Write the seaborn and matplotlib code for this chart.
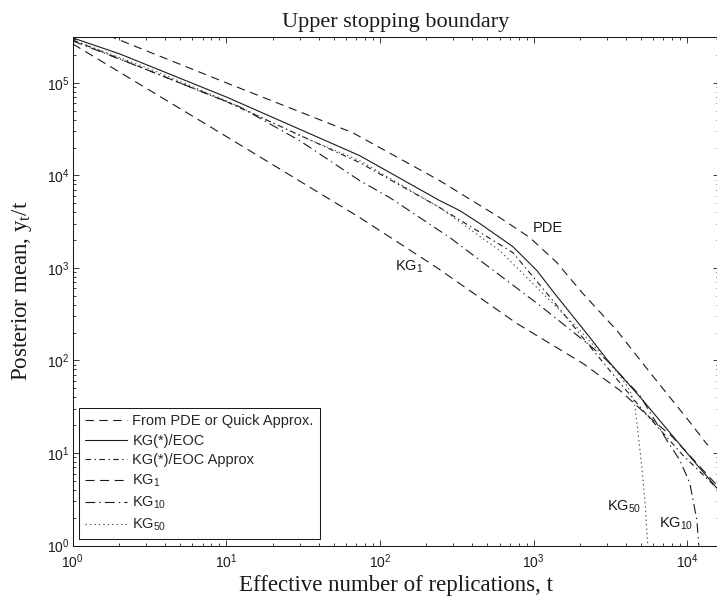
import matplotlib
matplotlib.use("Agg")
import matplotlib.pyplot as plt
import numpy as np
import seaborn as sns
from matplotlib.ticker import LogLocator, FuncFormatter, NullFormatter

# --- values (t = effective replications, y = y_t/t) ---
t_pde = [1.7, 10.0, 66.5, 245, 602, 945, 1416, 2091, 3481, 5708, 9940, 13620]
y_pde = [325000, 100000, 28880, 8767, 3498, 2128, 1143, 529.5, 211.2, 74.4, 23.7, 12.1]

t_eoc = [1, 2.02, 10.06, 73.9, 245, 331, 447, 732, 1050, 1334, 2322, 2997, 5140, 9363, 15590]
y_eoc = [305900, 205500, 70000, 16320, 5333, 4159, 3013, 1700, 937, 560, 177.5, 102.8, 37.1, 11.3, 4.17]

t_eoc_approx = [1, 10.06, 73.9, 245, 732, 1334, 2322, 5140, 9363, 15590]
y_eoc_approx = [290900, 62380, 13710, 4483, 1466, 444.9, 141.9, 28.9, 9.47, 4.17]

t_kg1 = [1, 10.06, 73.9, 234, 777, 2091, 3640, 5970, 8059, 15590]
y_kg1 = [263500, 26150, 3498, 1010, 251.3, 93.0, 47.6, 22.6, 14.8, 4.49]

t_kg10 = [1, 3.17, 12.2, 30.1, 73.9, 115.8, 285, 1098, 2322, 2997, 4914, 7366, 8951, 10400, 11550, 11900]
y_kg10 = [283900, 134700, 55100, 23670, 8767, 5747, 2128, 393.0, 145.6, 100.3, 42.0, 13.7, 8.36, 4.72, 1.88, 1.0]

t_kg50 = [1, 3.17, 10.06, 30.1, 73.9, 245, 602, 1098, 1999, 2698, 3640, 4229, 4559, 4769, 5064, 5297, 5540]
y_kg50 = [290900, 141600, 63960, 26810, 14410, 4483, 1540, 570.5, 211.2, 122.3, 69.1, 47.6, 32.8, 17.6, 7.03, 3.10, 1.0]

series_labels = ["From PDE or Quick Approx.", "KG(*)/EOC", "KG(*)/EOC Approx",
                 r"$\mathregular{KG_{1}}$", r"$\mathregular{KG_{10}}$", r"$\mathregular{KG_{50}}$"]

# in-plot annotations (text, t, y)
note_text = ["PDE", r"$\mathregular{KG_{1}}$", r"$\mathregular{KG_{50}}$", r"$\mathregular{KG_{10}}$"]
note_t = [988, 125, 2998, 6530]
note_y = [2470, 937, 2.41, 1.545]

sns.set_theme(style="ticks")
plt.rcParams["font.family"] = ["Liberation Sans", "DejaVu Sans"]
plt.rcParams["mathtext.fontset"] = "custom"
plt.rcParams["mathtext.rm"] = "Liberation Sans"
plt.rcParams["mathtext.it"] = "Liberation Sans:italic"
plt.rcParams["lines.scale_dashes"] = False

fig = plt.figure(figsize=(7.17, 5.96), dpi=100)
ax = fig.add_axes([0.1014, 0.0847, 0.9008, 0.8537])

styles = [(0, (6, 4)), "-", (0, (4, 2.5, 1, 2.5)), (0, (6.5, 4)), (0, (7, 3, 1, 3)), (0, (1, 2.2))]
colors = ["k", "k", "k", "k", "k", "0.3"]
data = [(t_pde, y_pde), (t_eoc, y_eoc), (t_eoc_approx, y_eoc_approx),
        (t_kg1, y_kg1), (t_kg10, y_kg10), (t_kg50, y_kg50)]

for (t, y), lab, ls, col in zip(data, series_labels, styles, colors):
    sns.lineplot(x=t, y=y, ax=ax, color=col, linestyle=ls, linewidth=0.8,
                 label=lab, estimator=None, sort=False)

ax.set_xscale("log")
ax.set_yscale("log")
ax.set_xlim(1, 1.6e4)
ax.set_ylim(1, 3.15e5)

fmt = FuncFormatter(lambda v, p: r"$\mathregular{10^{%d}}$" % round(np.log10(v)))
for axis in (ax.xaxis, ax.yaxis):
    axis.set_major_locator(LogLocator(base=10, numticks=20))
    axis.set_minor_locator(LogLocator(base=10, subs=np.arange(2, 10), numticks=20))
    axis.set_major_formatter(fmt)
    axis.set_minor_formatter(NullFormatter())

ax.tick_params(which="both", direction="in", top=True, right=True, width=0.6,
               color="k", labelcolor="k", labelsize=10)
ax.tick_params(which="major", length=4.5)
ax.tick_params(which="minor", length=2.3)
ax.tick_params(axis="x", pad=5)
ax.tick_params(axis="y", pad=2)
for sp in ax.spines.values():
    sp.set_color("k")
    sp.set_linewidth(0.75)

for txt, tx, ty in zip(note_text, note_t, note_y):
    ax.text(tx, ty, txt, fontsize=10.5, ha="left", va="baseline", color="k")

ax.set_title("Upper stopping boundary", fontfamily="Liberation Serif", fontsize=16, pad=7, color="k")
ax.set_xlabel("Effective number of replications, t", fontfamily="Liberation Serif",
              fontsize=16.5, labelpad=3, color="k")
ax.set_ylabel(r"Posterior mean, $\mathregular{y_t}$/t", fontfamily="Liberation Serif",
              fontsize=16.5, color="k")
ax.yaxis.set_label_coords(-0.06, 0.5)

leg = ax.legend(loc="lower left", fontsize=10.5, frameon=True, fancybox=False,
                edgecolor="k", framealpha=1, handlelength=2.9, handletextpad=0.35,
                borderpad=0.4, labelspacing=0.38, borderaxespad=0.45)
leg.get_frame().set_linewidth(0.75)

fig.savefig("out.png", dpi=100)
